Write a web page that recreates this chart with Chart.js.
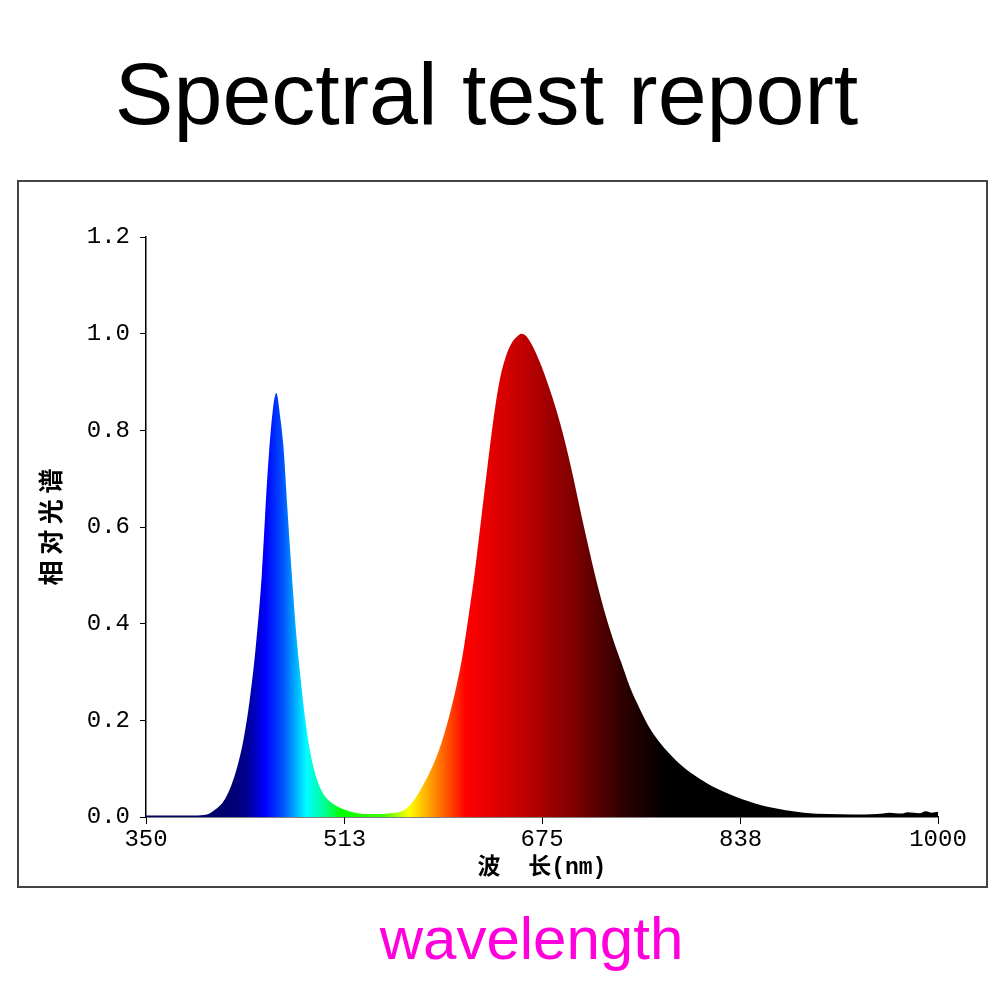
<!DOCTYPE html>
<html>
<head>
<meta charset="utf-8">
<script src="https://cdn.jsdelivr.net/npm/chart.js@4"></script>
<style>
    html, body { margin: 0; padding: 0; background: #fff; }
    body { width: 1000px; height: 1000px; position: relative; overflow: hidden; }
    #title {
        position: absolute; left: 0; width: 973px; top: 44px;
        text-align: center; font: 88px "Liberation Sans", Arial, sans-serif;
        color: #000; line-height: 100px;
    }
    #box {
        position: absolute; left: 17px; top: 180px; width: 971px; height: 708px;
        box-sizing: border-box; border: 2px solid #444;
    }
    #wrap { position: absolute; left: 0; top: 0; width: 967px; height: 704px; }
    #foot {
        position: absolute; left: 0; width: 1063px; top: 904px;
        text-align: center; font: 60px "Liberation Sans", Arial, sans-serif;
        color: #ff00dc; line-height: 70px;
    }
</style>
</head>
<body>
<div id="title">Spectral test report</div>
<div id="box"><div id="wrap"><canvas id="myChart"></canvas></div></div>
<div id="foot">wavelength</div>
<script>
// wavelength (nm) and relative intensity
const wavelengths = [
    350, 370, 390, 400, 405, 410, 415, 420, 425, 430, 435, 440, 445, 450, 454, 457,
    460, 463, 466, 470, 474, 478, 480, 484, 490, 495, 500, 510, 520, 530, 540, 550,
    560, 565, 570, 575, 580, 585, 590, 595, 600, 605, 610, 615, 620, 625, 630, 635,
    640, 645, 650, 655, 658, 662, 666, 670, 675, 680, 687, 694, 700, 707, 713, 720,
    728, 735, 740, 747, 755, 762, 769, 777, 785, 794, 805, 815, 827, 840, 850, 860,
    875, 890, 910, 930, 950, 960, 970, 975, 985, 990, 995, 1000,
];
const intensity = [
    0.003, 0.003, 0.003, 0.005, 0.012, 0.022, 0.038, 0.065, 0.105, 0.16, 0.24, 0.35, 0.50, 0.72, 0.84, 0.877,
    0.83, 0.76, 0.64, 0.49, 0.36, 0.26, 0.215, 0.145, 0.08, 0.05, 0.034, 0.018, 0.010, 0.006, 0.006, 0.008,
    0.012, 0.02, 0.035, 0.055, 0.078, 0.104, 0.135, 0.174, 0.22, 0.273, 0.337, 0.42, 0.51, 0.615, 0.72, 0.82,
    0.90, 0.95, 0.98, 0.995, 1.0, 0.995, 0.98, 0.96, 0.93, 0.895, 0.84, 0.775, 0.71, 0.628, 0.56, 0.485,
    0.41, 0.355, 0.32, 0.27, 0.225, 0.19, 0.163, 0.138, 0.117, 0.097, 0.078, 0.063, 0.049, 0.036, 0.028, 0.021,
    0.014, 0.009, 0.006, 0.005, 0.006, 0.009, 0.007, 0.01, 0.008, 0.012, 0.009, 0.011,
];
const xTickLabels = [350, 513, 675, 838, 1000];
const yTicks = [0, 0.2, 0.4, 0.6, 0.8, 1.0, 1.2];

// colour of the fill at each wavelength
const spectrumStops = [
    [350, "#000060"], [420, "#000070"], [432, "#00008c"], [448, "#0000ff"], [462, "#0050ff"],
    [482, "#00ffff"], [497, "#00ff90"], [510, "#00ff00"], [545, "#40ff00"], [566, "#ffff00"],
    [580, "#ffb000"], [595, "#ff6000"], [612, "#ff0000"], [650, "#d00000"], [700, "#800000"],
    [740, "#300000"], [775, "#000000"], [1000, "#000000"],
];

function spectrumFill(context) {
    const chart = context.chart;
    const area = chart.chartArea;
    if (!area) return "#000";
    const xs = chart.scales.x;
    const g = chart.ctx.createLinearGradient(area.left, 0, area.right, 0);
    const w = area.right - area.left;
    spectrumStops.forEach(([nm, c]) => {
        g.addColorStop((xs.getPixelForValue(nm) - area.left) / w, c);
    });
    return g;
}

const config = {
    type: "line",
    data: {
        datasets: [
            {
                data: wavelengths.map((w, i) => ({ x: w, y: intensity[i] })),
                fill: "origin",
                backgroundColor: spectrumFill,
                borderColor: "rgba(0,0,0,0)",
                borderWidth: 0,
                pointRadius: 0,
                cubicInterpolationMode: "monotone",
            },
        ],
    },
    options: {
        responsive: true,
        maintainAspectRatio: false,
        animation: false,
        layout: { padding: { left: 0, top: 55, right: 48, bottom: 0 } },
        plugins: { legend: { display: false }, tooltip: { enabled: false } },
        scales: {
            x: {
                type: "linear",
                min: 350,
                max: 1000,
                afterBuildTicks: (scale) => {
                    scale.ticks = xTickLabels.map((v) => ({ value: v }));
                },
                afterFit: (scale) => { scale.height = 69; },
                ticks: {
                    autoSkip: false,
                    maxRotation: 0,
                    padding: 1,
                    color: "#000",
                    font: { family: "'Liberation Mono', monospace", size: 24 },
                    callback: (v) => String(v),
                },
                grid: { drawOnChartArea: false, tickLength: 7, color: "#000", lineWidth: 1 },
                border: { color: "#000", width: 1.5 },
                title: {
                    display: true,
                    text: "波  长(nm)",
                    color: "#000",
                    font: { family: "'Liberation Mono', 'Noto Sans CJK SC', monospace", size: 23, weight: "bold" },
                    padding: { top: 0, bottom: 4 },
                },
            },
            y: {
                min: 0,
                max: 1.2,
                afterBuildTicks: (scale) => {
                    scale.ticks = yTicks.map((v) => ({ value: v }));
                },
                afterFit: (scale) => { scale.width = 127; },
                ticks: {
                    padding: 10,
                    color: "#000",
                    font: { family: "'Liberation Mono', monospace", size: 24 },
                    callback: (v) => Number(v).toFixed(1),
                },
                grid: { drawOnChartArea: false, tickLength: 6, color: "#000", lineWidth: 1 },
                border: { color: "#000", width: 1.5 },
                title: {
                    display: true,
                    text: "相 对 光 谱",
                    color: "#000",
                    font: { family: "'Noto Sans CJK SC', sans-serif", size: 25, weight: "bold" },
                    padding: { top: 16, bottom: 0 },
                },
            },
        },
    },
};

var myChart = new Chart(document.getElementById("myChart"), config);
</script>
</body>
</html>
